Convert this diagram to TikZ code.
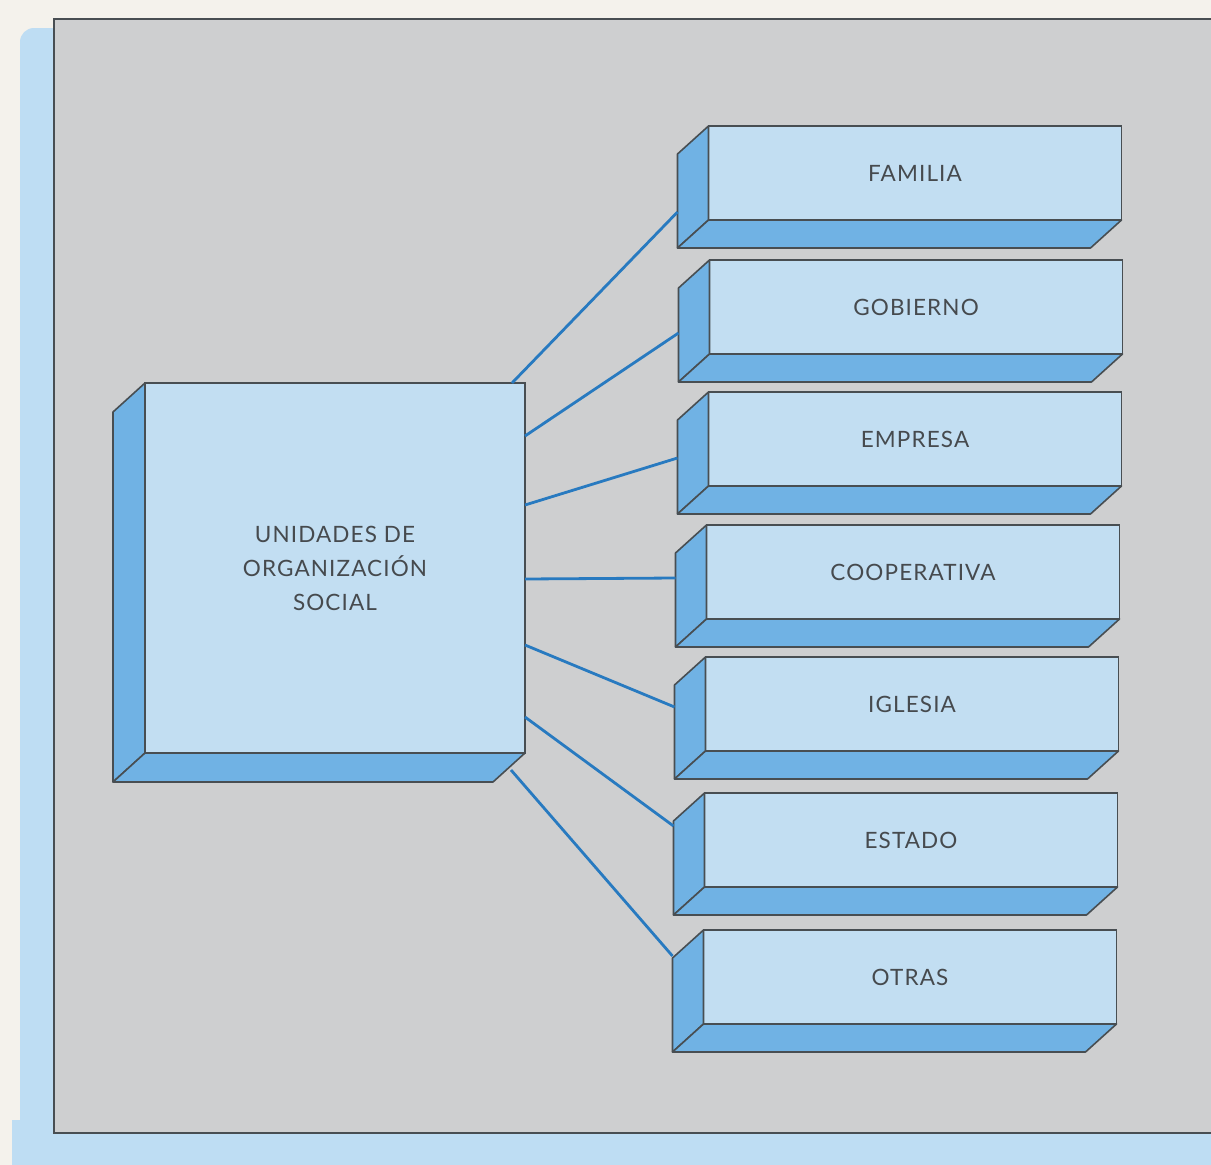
\documentclass[tikz,border=0pt]{standalone}
\usepackage{fontspec}
\setmainfont{Lato}
\usetikzlibrary{calc,positioning}

\definecolor{papel}{RGB}{244,242,236}
\definecolor{franja}{RGB}{190,221,243}
\definecolor{fondo}{RGB}{206,207,208}
\definecolor{cara}{RGB}{194,222,242}
\definecolor{lado}{RGB}{112,178,228}
\definecolor{borde}{RGB}{72,78,82}
\definecolor{linea}{RGB}{40,122,192}
\definecolor{letra}{RGB}{70,74,78}

% side and bottom faces of a box: node name, depth
\newcommand{\caras}[2]{%
    \filldraw[cara lateral] (#1.north west) -- ++#2 -- ($(#1.south west)+#2$) -- (#1.south west) -- cycle;
    \filldraw[cara lateral] (#1.south west) -- (#1.south east) -- ($(#1.south east)+#2$) -- ($(#1.south west)+#2$) -- cycle;
}

\begin{document}
\begin{tikzpicture}[x=1pt,y=-1pt,
    caja/.style={draw=borde, line width=1.6pt, fill=cara, outer sep=0pt, inner sep=0pt,
        minimum width=413pt, minimum height=94pt, text=letra,
        font=\addfontfeatures{LetterSpace=5}\fontsize{22.5}{34}\selectfont},
    cara lateral/.style={draw=borde, line width=1.6pt, fill=lado, line join=round},
    conector/.style={draw=linea, line width=2.8pt}]

    \useasboundingbox (0,0) rectangle (1211,1165);
    \clip (0,0) rectangle (1211,1165);

    % page and panel
    \fill[papel] (0,0) rectangle (1211,1165);
    \fill[franja, rounded corners=14pt] (20,28) rectangle (80,1150);
    \fill[franja] (12,1120) rectangle (1211,1165);
    \filldraw[fill=fondo, draw=borde, line width=2pt] (54,19) rectangle (1225,1133);

    % central box
    \node (unidades) [caja, minimum width=380pt, minimum height=370pt, align=center]
        at (335,568) {UNIDADES DE\\ORGANIZACIÓN\\SOCIAL};
    \caras{unidades}{(-32,29)}

    % boxes on the right
    \foreach \nombre/\texto/\cx/\cy in {familia/FAMILIA/915/173, gobierno/GOBIERNO/916/307,
        empresa/EMPRESA/915/439, cooperativa/COOPERATIVA/913/572, iglesia/IGLESIA/912/704,
        estado/ESTADO/911/840, otras/OTRAS/910/977} {
        \node (\nombre) [caja] at (\cx,\cy) {\texto};
        \caras{\nombre}{(-31,28)}
    }

    % connectors
    \draw[conector] ($(unidades.north east)+(-13,0)$) -- ($(familia.west)+(-31,39)$);
    \draw[conector] ($(unidades.north east)+(0,53)$) -- ($(gobierno.west)+(-31,26)$);
    \draw[conector] ($(unidades.north east)+(0,122)$) -- ($(empresa.west)+(-31,19)$);
    \draw[conector] ($(unidades.north east)+(0,196)$) -- ($(cooperativa.west)+(-31,6)$);
    \draw[conector] ($(unidades.north east)+(0,262)$) -- ($(iglesia.west)+(-31,3)$);
    \draw[conector] ($(unidades.north east)+(0,334)$) -- ($(estado.west)+(-31,-14)$);
    \draw[conector] ($(unidades.south east)+(-14,17)$) -- ($(otras.west)+(-31,-21)$);
\end{tikzpicture}
\end{document}
